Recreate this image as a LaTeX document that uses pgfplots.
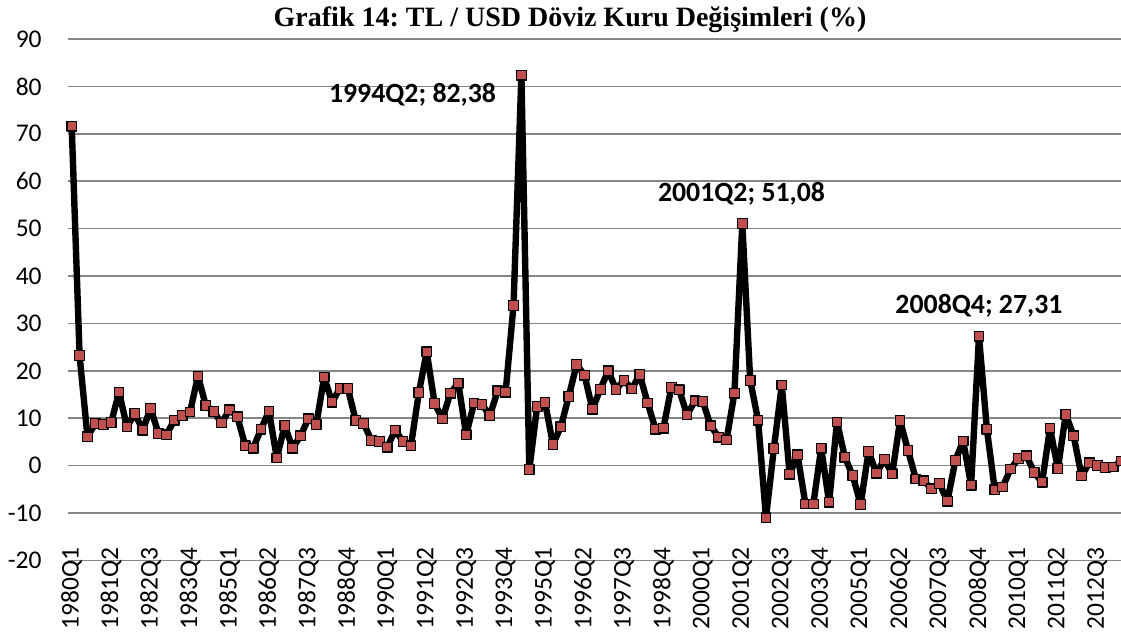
\documentclass[border=0pt]{standalone}
\usepackage{pgfplots}
\pgfplotsset{compat=1.18}
\usepackage{fontspec}
\setmainfont{Carlito}
\newfontfamily\titlefont{Liberation Serif}
\definecolor{gridgray}{RGB}{134,134,134}
\definecolor{markred}{RGB}{192,80,77}
\frenchspacing

\begin{document}
\begin{tikzpicture}
\path[use as bounding box] (0,0) rectangle (560.5pt,317.5pt);
\node[anchor=base, font=\titlefont\bfseries\fontsize{14}{16}\selectfont]
  at (285pt,304pt) {Grafik 14: TL / USD Döviz Kuru Değişimleri (\%)};
\begin{axis}[
  at={(34pt,37.25pt)}, anchor=south west,
  scale only axis, width=526.5pt, height=260.75pt,
  xmin=-0.47, xmax=133.0, ymin=-20, ymax=90,
  ytick={-20,-10,...,90},
  yticklabels={-20,-10,0,10,20,30,40,50,60,70,80,90},
  xtick={0,5,...,130},
  xticklabels={1980Q1,1981Q2,1982Q3,1983Q4,1985Q1,1986Q2,1987Q3,1988Q4,
    1990Q1,1991Q2,1992Q3,1993Q4,1995Q1,1996Q2,1997Q3,1998Q4,2000Q1,
    2001Q2,2002Q3,2003Q4,2005Q1,2006Q2,2007Q3,2008Q4,2010Q1,2011Q2,2012Q3},
  ymajorgrids, grid style={draw=gridgray, line width=0.8pt},
  axis line style={draw=none},
  major tick length=0pt,
  tick label style={font=\fontsize{12.75}{14}\selectfont},
  yticklabel style={anchor=east, inner sep=0pt, xshift=-13pt},
  xticklabel style={rotate=90, anchor=east, inner sep=0pt},
  xticklabel shift=-6.5pt,
]
\addplot[black, line width=3.2pt, line join=round, mark=square*,
  mark size=2.4pt, mark options={fill=markred, draw=black, line width=0.6pt}]
  coordinates {
  (0,71.6) (1,23.2) (2,6.1) (3,8.9) (4,8.7) (5,9.1) (6,15.5) (7,8.2)
  (8,11.0) (9,7.5) (10,12.1) (11,6.8) (12,6.5) (13,9.6) (14,10.6) (15,11.3)
  (16,18.9) (17,12.7) (18,11.4) (19,9.0) (20,11.8) (21,10.3) (22,4.2) (23,3.7)
  (24,7.7) (25,11.5) (26,1.6) (27,8.5) (28,3.7) (29,6.3) (30,9.9) (31,8.7)
  (32,18.7) (33,13.4) (34,16.3) (35,16.3) (36,9.5) (37,8.9) (38,5.3) (39,5.1)
  (40,3.9) (41,7.5) (42,5.1) (43,4.2) (44,15.4) (45,24.0) (46,13.1) (47,9.9)
  (48,15.3) (49,17.4) (50,6.5) (51,13.2) (52,12.9) (53,10.6) (54,15.8) (55,15.5)
  (56,33.8) (57,82.38) (58,-0.8) (59,12.5) (60,13.3) (61,4.5) (62,8.2) (63,14.6)
  (64,21.3) (65,19.1) (66,11.9) (67,16.1) (68,20.0) (69,16.1) (70,18.0) (71,16.2)
  (72,19.2) (73,13.2) (74,7.7) (75,7.9) (76,16.5) (77,16.0) (78,10.7) (79,13.7)
  (80,13.5) (81,8.4) (82,6.0) (83,5.4) (84,15.3) (85,51.08) (86,18.0) (87,9.6)
  (88,-11.0) (89,3.6) (90,17.0) (91,-1.8) (92,2.3) (93,-8.1) (94,-8.1) (95,3.7)
  (96,-7.7) (97,9.2) (98,1.8) (99,-2.1) (100,-8.2) (101,3.0) (102,-1.6) (103,1.3)
  (104,-1.7) (105,9.5) (106,3.2) (107,-2.8) (108,-3.2) (109,-4.9) (110,-3.8) (111,-7.5)
  (112,1.1) (113,5.2) (114,-4.1) (115,27.31) (116,7.7) (117,-5.1) (118,-4.5) (119,-0.7)
  (120,1.5) (121,2.1) (122,-1.4) (123,-3.5) (124,7.9) (125,-0.6) (126,10.8) (127,6.3)
  (128,-2.2) (129,0.6) (130,0.0) (131,-0.4) (132,-0.3) (133,1.0)
};
\node[anchor=base, font=\bfseries\fontsize{13.9}{16}\selectfont]
  at (axis cs:43.2,76.6) {1994Q2; 82,38};
\node[anchor=base, font=\bfseries\fontsize{13.9}{16}\selectfont]
  at (axis cs:84.9,55.7) {2001Q2; 51,08};
\node[anchor=base, font=\bfseries\fontsize{13.9}{16}\selectfont]
  at (axis cs:115.0,32.2) {2008Q4; 27,31};
\end{axis}
\end{tikzpicture}
\end{document}
